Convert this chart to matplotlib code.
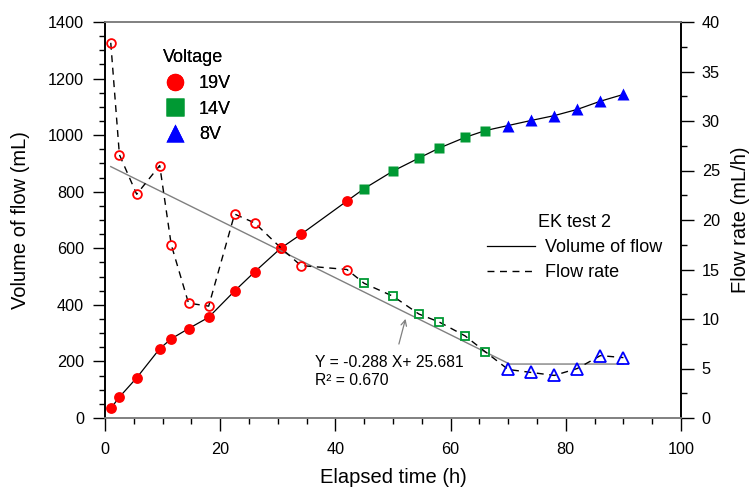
import numpy as np
import matplotlib.pyplot as plt
from matplotlib.lines import Line2D
from matplotlib.ticker import MultipleLocator

plt.rcParams['font.family'] = ['Liberation Sans', 'DejaVu Sans']

# elapsed time (h), cumulative volume (mL) and flow rate (mL/h) per voltage stage
time_19v = [1, 2.5, 5.5, 9.5, 11.5, 14.5, 18, 22.5, 26, 30.5, 34, 42]
vol_19v = [34, 74, 142, 245, 280, 316, 356, 449, 517, 600, 649, 767]
rate_19v = [37.9, 26.6, 22.6, 25.5, 17.5, 11.6, 11.3, 20.6, 19.7, 17.2, 15.4, 15.0]

time_14v = [45, 50, 54.5, 58, 62.5, 66]
vol_14v = [811, 873, 919, 954, 992, 1016]
rate_14v = [13.6, 12.3, 10.5, 9.7, 8.3, 6.7]

time_8v = [70, 74, 78, 82, 86, 90]
vol_8v = [1034, 1052, 1069, 1091, 1120, 1144]
rate_8v = [4.9, 4.6, 4.3, 5.0, 6.3, 6.1]

# linear fit of flow rate, then a flat plateau
fit_slope = -0.288
fit_icpt = 25.681
plateau = 5.45
fit_start, fit_end = 1, 90

red = '#ff0000'
green = '#009933'
blue = '#0000ff'
gray = '#808080'

fig = plt.figure(figsize=(7.53, 4.91), dpi=100)
ax = fig.add_axes([105/753, 73/491, 576/753, 396/491])
ax2 = ax.twinx()

t_all = time_19v + time_14v + time_8v
v_all = vol_19v + vol_14v + vol_8v
r_all = rate_19v + rate_14v + rate_8v

# volume of flow (left axis)
ax.plot(t_all, v_all, color='black', lw=0.9, zorder=2)
ax.plot(time_19v, vol_19v, 'o', color=red, ms=7.8, mec='none', zorder=3)
ax.plot(time_14v, vol_14v, 's', color=green, ms=6.8, mec='none', zorder=3)
ax.plot(time_8v, vol_8v, '^', color=blue, ms=8.5, mec='none', zorder=3)

# flow rate (right axis)
x_break = (plateau - fit_icpt) / fit_slope
ax2.plot([fit_start, x_break, fit_end],
         [fit_icpt + fit_slope * fit_start, plateau, plateau],
         color=gray, lw=1.0, zorder=1)
ax2.plot(t_all, r_all, color='black', lw=1.0, ls=(0, (5, 4)), zorder=2)
ax2.plot(time_19v, rate_19v, 'o', mfc='none', mec=red, ms=6.3, mew=1.3, zorder=3)
ax2.plot(time_14v, rate_14v, 's', mfc='none', mec=green, ms=5.8, mew=1.3, zorder=3)
ax2.plot(time_8v, rate_8v, '^', mfc='none', mec=blue, ms=8, mew=1.3, zorder=3)

ax.set_xlim(0, 100)
ax.set_ylim(0, 1400)
ax2.set_ylim(0, 40)

ax.xaxis.set_major_locator(MultipleLocator(20))
ax.xaxis.set_minor_locator(MultipleLocator(5))
ax.yaxis.set_major_locator(MultipleLocator(200))
ax.yaxis.set_minor_locator(MultipleLocator(50))
ax2.yaxis.set_major_locator(MultipleLocator(5))
ax2.yaxis.set_minor_locator(MultipleLocator(2.5))

for a in (ax, ax2):
    a.tick_params(which='major', direction='out', length=9, width=1, labelsize=11.7, pad=6)
    a.tick_params(which='minor', direction='out', length=4.5, width=1)
    a.spines['top'].set_color(gray)
    a.spines['bottom'].set_color(gray)
    a.spines['left'].set_color('black')
    a.spines['right'].set_color('black')
    for s in a.spines.values():
        s.set_linewidth(1.2)
ax.tick_params(axis='x', which='major', pad=8)

ax.set_xlabel('Elapsed time (h)', fontsize=14.5, labelpad=8)
ax.set_ylabel('Volume of flow (mL)', fontsize=14.5, labelpad=13)
ax2.set_ylabel('Flow rate (mL/h)', fontsize=14.5, labelpad=8)

# regression annotation
ax.annotate('', xy=(52.3, 360), xytext=(50.9, 252),
            arrowprops=dict(arrowstyle='->', color=gray, lw=0.9))
ax.text(36.5, 181, 'Y = -0.288 X+ 25.681', fontsize=11.3, va='baseline')
ax.text(36.5, 116, 'R\u00b2 = 0.670', fontsize=11.3, va='baseline')

# voltage legend
v_handles = [
    Line2D([], [], ls='none', marker='o', color=red, ms=12.5, mec='none'),
    Line2D([], [], ls='none', marker='s', color=green, ms=12.5, mec='none'),
    Line2D([], [], ls='none', marker='^', color=blue, ms=13, mec='none'),
]
leg1 = ax.legend(v_handles, ['19V', '14V', '8V'], title='Voltage',
                 loc='upper left', bbox_to_anchor=(0.1007, 0.931),
                 frameon=False, fontsize=13, title_fontsize=13,
                 alignment='left', borderpad=0, borderaxespad=0,
                 handlelength=1.3, handletextpad=0.7, labelspacing=0.48)
ax.add_artist(leg1)

# series legend
s_handles = [
    Line2D([], [], color='black', lw=0.9),
    Line2D([], [], color='black', lw=1.0, ls=(0, (5, 4))),
]
leg2 = ax2.legend(s_handles, ['Volume of flow', 'Flow rate'], title='EK test 2',
                  loc='upper left', bbox_to_anchor=(0.663, 0.515),
                  frameon=False, fontsize=13, title_fontsize=13,
                  borderpad=0, borderaxespad=0,
                  handlelength=2.67, handletextpad=0.55, labelspacing=0.45)

fig.savefig('out.png', dpi=100)
